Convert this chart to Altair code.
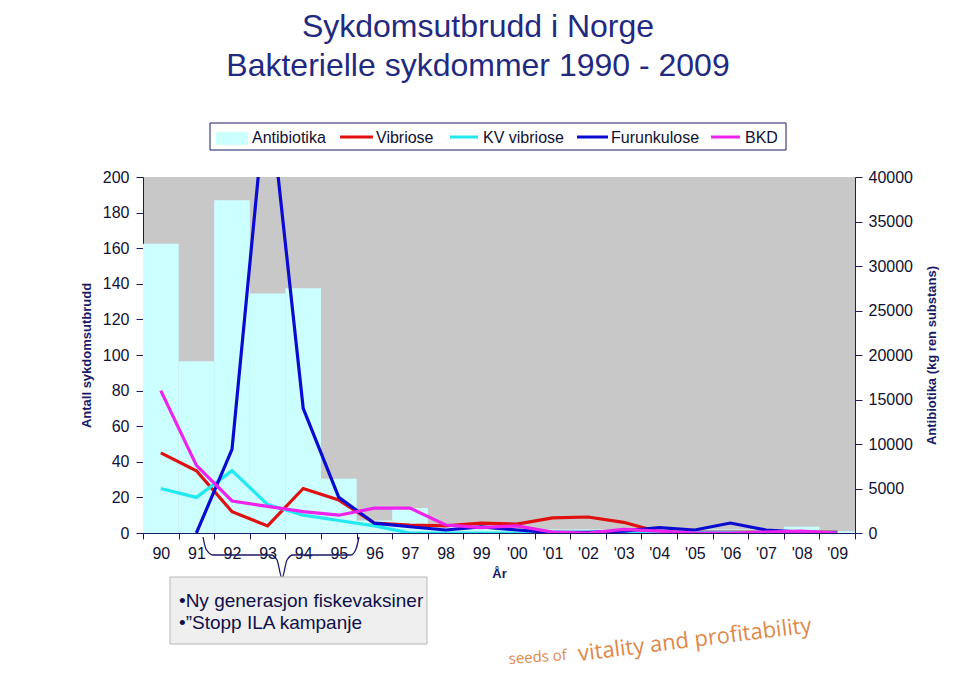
import altair as alt
import pandas as pd

years = ['90', '91', '92', '93', '94', '95', '96', '97', '98', '99',
         "'00", "'01", "'02", "'03", "'04", "'05", "'06", "'07", "'08", "'09"]
antibiotika = [32500, 19300, 37400, 26900, 27500, 6100, 1400, 2800, 900, 500,
               400, 400, 400, 400, 400, 400, 400, 400, 700, 200]
vibriose = [45, 35, 12, 4, 25, 18.5, 5.5, 4.5, 4, 5.5, 5, 8.5, 9, 6, 0.5, 0.5, 0.5, 0.5, 0.5, 0.5]
kv_vibriose = [25, 20, 35, 16, 10, 7, 4, 0, 0, 0, 0, 0.3, 0.3, 0.5, 0.5, 0.3, 0.3, 0.3, 0.3, 0.3]
furunkulose = [None, 0, 47, 255, 70, 20, 5.5, 3.5, 1.7, 3.4, 1.7, 0.3, 0.3, 1.1, 3, 1.7, 5.6, 1.7, 0.5, 0]
bkd = [80, 38, 18, 15, 12, 10, 14, 14, 4.5, 3, 4, 0.5, 0, 2, 1, 0, 0, 0.5, 1, 0]

series_names = ['Vibriose', 'KV vibriose', 'Furunkulose', 'BKD']
series_values = [vibriose, kv_vibriose, furunkulose, bkd]
series_colors = ['#e01010', '#22e8f0', '#0a0ad0', '#ee22ee']

# brace annotation path (pixel coordinates within the plot area)
brace_x = [60, 63, 70, 128, 134, 139, 144, 150, 208, 213, 216]
brace_y = [360, 372, 378, 378, 383, 401, 383, 378, 378, 372, 360]

FONT = 'Liberation Sans'
NAVY = '#1a1a66'
TXT = '#111133'

x_enc = alt.X('year:N', sort=years, title='År',
              scale=alt.Scale(paddingInner=0, paddingOuter=0),
              axis=alt.Axis(labelAngle=0, tickBand='extent', labelFontSize=16,
                            labelColor=TXT, labelFont=FONT, domainColor=NAVY,
                            tickColor=NAVY, tickSize=6, labelPadding=6, grid=False,
                            titleFont=FONT, titleFontSize=13, titleFontWeight='bold',
                            titleColor=NAVY, titlePadding=6))

bar_df = pd.DataFrame({'year': years, 'ab': antibiotika})
bars = alt.Chart(bar_df).mark_bar(color='#ccffff', clip=True).encode(
    x=x_enc,
    y=alt.Y('ab:Q', scale=alt.Scale(domain=[0, 40000]),
            axis=alt.Axis(orient='right', values=list(range(0, 40001, 5000)), format='d',
                          title='Antibiotika (kg ren substans)', grid=False,
                          labelFontSize=16, labelColor=TXT, labelFont=FONT,
                          domainColor=NAVY, tickColor=NAVY, tickSize=7, labelPadding=6,
                          titleFont=FONT, titleFontSize=13, titleFontWeight='bold',
                          titleColor=NAVY, titleAngle=270, titleX=76, titleY=178,
                          titleBaseline='middle', titleAlign='center'))
)

y_left = alt.Y('v:Q', scale=alt.Scale(domain=[0, 200]),
               axis=alt.Axis(orient='left', values=list(range(0, 201, 20)),
                             title='Antall sykdomsutbrudd', grid=False,
                             labelFontSize=16, labelColor=TXT, labelFont=FONT,
                             domainColor=NAVY, tickColor=NAVY, tickSize=7, labelPadding=7,
                             titleFont=FONT, titleFontSize=13, titleFontWeight='bold',
                             titleColor=NAVY, titleAngle=270, titleX=-57, titleY=178,
                             titleBaseline='middle', titleAlign='center'))

line_layers = []
for name, vals, col in zip(series_names, series_values, series_colors):
    d = pd.DataFrame({'year': years, 'v': vals}).dropna()
    line_layers.append(
        alt.Chart(d).mark_line(color=col, strokeWidth=3.2, clip=True).encode(x=x_enc, y=y_left)
    )
lines = alt.layer(*line_layers)

main = alt.layer(bars, lines).resolve_scale(y='independent')


def txt(s, x, y, size, color=NAVY, weight='normal', align='center', baseline='middle', angle=0, font=FONT):
    kw = dict(fontSize=size, color=color, fontWeight=weight, align=align,
              baseline=baseline, font=font)
    if angle:
        kw['angle'] = angle
    return alt.Chart(pd.DataFrame({'t': [s]})).mark_text(**kw).encode(
        text='t:N', x=alt.value(x), y=alt.value(y))


def box(x1, x2, y1, y2, fill, stroke, sw=1):
    return alt.Chart(pd.DataFrame({'a': [0]})).mark_rect(fill=fill, stroke=stroke, strokeWidth=sw).encode(
        x=alt.value(x1), x2=alt.value(x2), y=alt.value(y1), y2=alt.value(y2))


def seg(x1, x2, y, color):
    return alt.Chart(pd.DataFrame({'a': [0]})).mark_rule(color=color, strokeWidth=3).encode(
        x=alt.value(x1), x2=alt.value(x2), y=alt.value(y))


legend_labels = ['Antibiotika', 'Vibriose', 'KV vibriose', 'Furunkulose', 'BKD']
deco = [
    txt('Sykdomsutbrudd i Norge', 335, -150, 32, color='#1f2a80'),
    txt('Bakterielle sykdommer 1990 - 2009', 335, -111, 32, color='#1f2a80'),
    box(67, 643, -54, -27, 'white', NAVY, 1),
    box(73, 105, -45, -32, '#ccffff', '#ccffff', 0),
    txt(legend_labels[0], 109, -39, 16, color=TXT, align='left'),
    seg(197, 230, -40, series_colors[0]),
    txt(legend_labels[1], 233, -39, 16, color=TXT, align='left'),
    seg(307, 335, -40, series_colors[1]),
    txt(legend_labels[2], 340, -39, 16, color=TXT, align='left'),
    seg(434, 465, -40, series_colors[2]),
    txt(legend_labels[3], 468, -39, 16, color=TXT, align='left'),
    seg(568, 597, -40, series_colors[3]),
    txt(legend_labels[4], 602, -39, 16, color=TXT, align='left'),
    box(27, 284, 400, 467, '#efefef', '#b8b8b8', 1),
    txt('•Ny generasjon fiskevaksiner', 36, 424, 19, color='#10104a', align='left'),
    txt('•”Stopp ILA kampanje', 36, 446, 19, color='#10104a', align='left'),
    txt('seeds of', 366, 487, 15, color='#e0884a', align='left', baseline='alphabetic', angle=356, font='Open Sans'),
    txt('vitality and profitability', 436, 484, 22, color='#e0884a', align='left', baseline='alphabetic', angle=353, font='Open Sans'),
]

brace_df = pd.DataFrame({'bx': brace_x, 'by': brace_y, 'o': list(range(len(brace_x)))})
brace = alt.Chart(brace_df).mark_line(color=NAVY, strokeWidth=1.3, interpolate='monotone').encode(
    x=alt.X('bx:Q', scale=None, axis=None),
    y=alt.Y('by:Q', scale=None, axis=None),
    order='o:Q')

chart = alt.layer(main, brace, *deco).resolve_scale(x='independent', y='independent').properties(
    width=712, height=356,
    autosize=alt.AutoSizeParams(type='none'),
    padding={'left': 135, 'top': 169, 'right': 96, 'bottom': 138},
    background='white'
).configure_view(fill='#c8c8c8', strokeWidth=0)

chart.save('out.html', embed_options={'renderer': 'svg', 'actions': False})
